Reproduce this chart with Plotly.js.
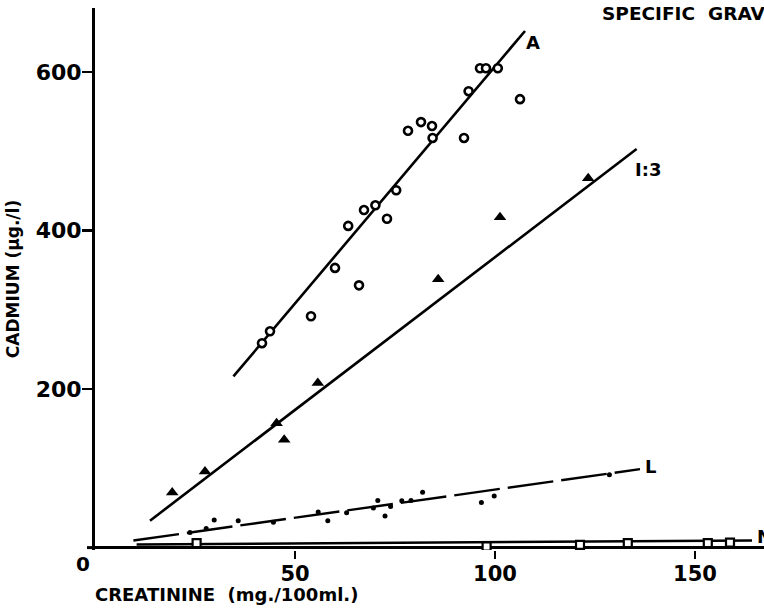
<!DOCTYPE html>
<html>
<head>
<meta charset="utf-8">
<script src="https://cdn.plot.ly/plotly-3.0.1.min.js"></script>
<style>html,body{margin:0;padding:0;background:#fff;}</style>
</head>
<body>
<div id="chart" style="width:764px;height:608px;"></div>
<script>
// Series A (open circles)
const aX = [41.75, 43.75, 54, 60, 63.3, 66, 67.25, 70.1, 73, 75.3, 78.25, 81.5, 84.25, 84.4, 92.25, 93.4, 96.25, 97.75, 100.7, 106.25];
const aY = [258, 273, 292, 353, 406, 331, 426, 432, 415, 451, 526, 537, 532, 517, 517, 576, 605, 605, 605, 566];
// Series I:3 (filled triangles)
const iX = [19.3, 27.5, 45.4, 47.3, 55.7, 85.8, 101.25, 123.3];
const iY = [69.5, 96, 157, 136, 207.6, 338.8, 417, 466];
// Series L (small dots)
const lX = [23.75, 27.8, 29.8, 35.8, 44.6, 55.8, 58.2, 62.9, 69.6, 70.7, 72.5, 73.9, 76.7, 79, 81.9, 96.6, 99.8, 128.6];
const lY = [19, 24, 35, 34, 32, 45, 34, 44, 50, 59.5, 40, 52, 59, 59.5, 70, 57, 65, 92];
// Series N (open squares)
const nX = [25.4, 97.9, 121.25, 133.2, 153.2, 158.75];
const nY = [5.6, 1.4, 3.5, 5.6, 5.6, 6.4];
// Fitted lines (end points)
const fitAX = [34.6, 107.5], fitAY = [216, 652];
const fitIX = [13.75, 135.4], fitIY = [34, 503];
const fitLX = [9.6, 136.25], fitLY = [9, 99];
const fitNX = [10.4, 164.25], fitNY = [4, 9];
// Labels
const seriesLabels = ['A', 'I:3', 'L', 'N'];
const xTicks = [50, 100, 150];
const yTicks = [200, 400, 600];

const FONT = 'DejaVu Sans, Arial, sans-serif';
const lineStyle = {color: '#000', width: 2.6};

const traces = [
  {x: fitAX, y: fitAY, mode: 'lines', line: lineStyle, hoverinfo: 'skip'},
  {x: fitIX, y: fitIY, mode: 'lines', line: lineStyle, hoverinfo: 'skip'},
  {x: fitLX, y: fitLY, mode: 'lines', line: {color: '#000', width: 2.4, dash: '46px,8px'}, hoverinfo: 'skip'},
  {x: fitNX, y: fitNY, mode: 'lines', line: lineStyle, hoverinfo: 'skip'},
  {x: aX, y: aY, mode: 'markers', name: 'A',
   marker: {symbol: 'circle', size: 8, color: '#fff', line: {color: '#000', width: 2.6}}},
  {x: iX, y: iY, mode: 'markers', name: 'I:3',
   marker: {symbol: 'triangle-up', size: 11, color: '#000'}},
  {x: lX, y: lY, mode: 'markers', name: 'L',
   marker: {symbol: 'circle', size: 5, color: '#000'}},
  {x: nX, y: nY, mode: 'markers', name: 'N',
   marker: {symbol: 'square', size: 8, color: '#fff', line: {color: '#000', width: 2.2}}}
];

const labFont = {family: FONT, size: 18, color: '#000', weight: 'bold'};

const layout = {
  width: 764, height: 608,
  margin: {l: 95, r: 0, t: 8, b: 58},
  paper_bgcolor: '#fff', plot_bgcolor: '#fff',
  showlegend: false,
  xaxis: {
    range: [0, 167.25], showgrid: false, zeroline: false, showline: false,
    tickmode: 'array', tickvals: xTicks, ticktext: xTicks.map(String),
    ticks: 'outside', ticklen: 8, tickwidth: 2.5, tickcolor: '#000',
    tickfont: {family: FONT, size: 21, color: '#000', weight: 'bold'},
    ticklabelstandoff: -3
  },
  yaxis: {
    range: [-3, 681], showgrid: false,
    zeroline: true, zerolinecolor: '#000', zerolinewidth: 3,
    showline: true, linecolor: '#000', linewidth: 3,
    tickmode: 'array', tickvals: yTicks, ticktext: yTicks.map(String),
    ticks: 'outside', ticklen: 10, tickwidth: 2.5, tickcolor: '#000',
    tickfont: {family: FONT, size: 22, color: '#000', weight: 'bold'},
    ticklabelstandoff: -4,
    title: {text: 'CADMIUM (µg./l)', font: {family: FONT, size: 17, color: '#000', weight: 'bold'}, standoff: 12}
  },
  shapes: [
    {type: 'line', xref: 'paper', yref: 'y', x0: -0.012, x1: 0, y0: 0, y1: 0, line: {color: '#000', width: 3}}
  ],
  annotations: [
    {xref: 'paper', yref: 'paper', x: -0.0179, y: -0.0258, text: '0', showarrow: false,
     xanchor: 'center', yanchor: 'middle', font: {family: FONT, size: 20, color: '#000', weight: 'bold'}},
    {xref: 'paper', yref: 'paper', x: -0.003, y: -0.0812, text: 'CREATININE  (mg./100ml.)', showarrow: false,
     xanchor: 'left', yanchor: 'middle', font: {family: FONT, size: 18, color: '#000', weight: 'bold'}},
    {xref: 'paper', yref: 'paper', x: 0.7549, y: 0.99, text: 'SPECIFIC  GRAVITY', showarrow: false,
     xanchor: 'left', yanchor: 'middle', font: {family: FONT, size: 18.5, color: '#000', weight: 'bold'}},
    {x: 109.5, y: 638, text: seriesLabels[0], showarrow: false, xanchor: 'center', yanchor: 'middle', font: labFont},
    {x: 138.25, y: 476.7, text: seriesLabels[1], showarrow: false, xanchor: 'center', yanchor: 'middle', font: labFont},
    {x: 138.75, y: 102, text: seriesLabels[2], showarrow: false, xanchor: 'center', yanchor: 'middle', font: labFont},
    {x: 165, y: 14, text: seriesLabels[3], showarrow: false, xanchor: 'left', yanchor: 'middle', font: labFont}
  ]
};

Plotly.newPlot('chart', traces, layout, {staticPlot: true, displayModeBar: false});
</script>
</body>
</html>
